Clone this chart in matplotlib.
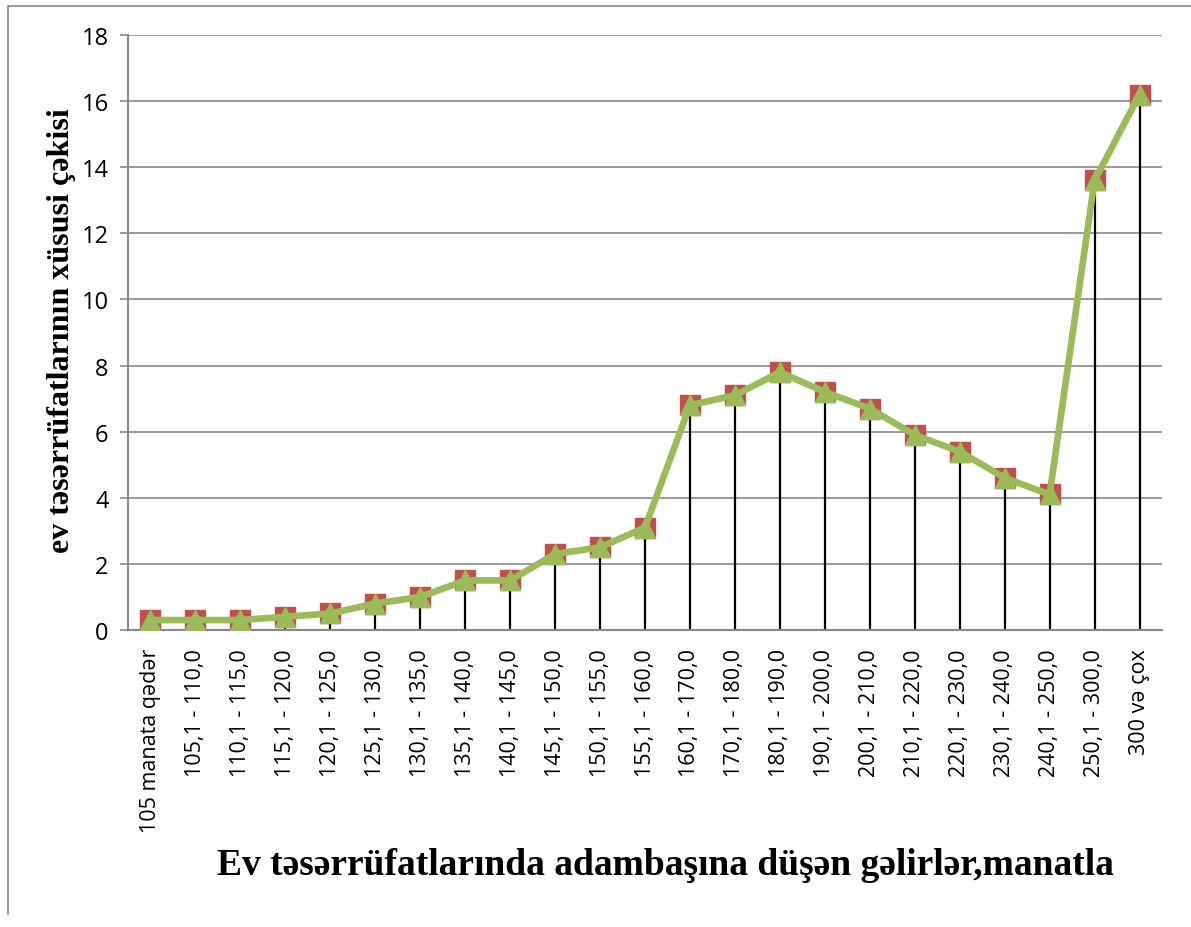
import matplotlib
matplotlib.use("Agg")
import matplotlib.pyplot as plt
from matplotlib.lines import Line2D

categories = ["105 manata qədər", "105,1 - 110,0", "110,1 - 115,0", "115,1 - 120,0",
              "120,1 - 125,0", "125,1 - 130,0", "130,1 - 135,0", "135,1 - 140,0",
              "140,1 - 145,0", "145,1 - 150,0", "150,1 - 155,0", "155,1 - 160,0",
              "160,1 - 170,0", "170,1 - 180,0", "180,1 - 190,0", "190,1 - 200,0",
              "200,1 - 210,0", "210,1 - 220,0", "220,1 - 230,0", "230,1 - 240,0",
              "240,1 - 250,0", "250,1 - 300,0", "300 və çox"]
values = [0.3, 0.3, 0.3, 0.4, 0.5, 0.8, 1.0, 1.5, 1.5, 2.3, 2.5, 3.1,
          6.8, 7.1, 7.8, 7.2, 6.7, 5.9, 5.4, 4.6, 4.1, 13.6, 16.2]
yticks = [0, 2, 4, 6, 8, 10, 12, 14, 16, 18]

W, H = 1191, 928
fig = plt.figure(figsize=(W / 100, H / 100), dpi=100)
ax = fig.add_axes([128 / W, 1 - 631 / H, (1162 - 128) / W, (631 - 36) / H])

x = list(range(len(categories)))
ax.vlines(x, 0, values, colors="black", lw=1.6, zorder=2)
ax.plot(x, values, ls="none", marker="s", ms=15, color="#C0504D", zorder=3)
ax.plot(x, values, lw=4.8, marker="^", ms=15, color="#9BBB59", zorder=4)

ax.set_xlim(-0.5, len(categories) - 0.5)
ax.set_ylim(0, 18)
ax.set_yticks(yticks)
ax.set_xticks(x)
ax.set_xticklabels(categories, rotation=90, fontfamily="Open Sans", fontsize=15.5)
ax.set_yticklabels([str(v) for v in yticks], fontfamily="Open Sans", fontsize=17)
ax.tick_params(axis="x", length=0, pad=13)
ax.tick_params(axis="y", length=6, width=1.2, color="#888888", pad=8)
ax.grid(axis="y", color="#888888", lw=1.2)
ax.set_axisbelow(True)
for s in ["top", "right"]:
    ax.spines[s].set_visible(False)
for s in ["left", "bottom"]:
    ax.spines[s].set_color("#888888")
    ax.spines[s].set_linewidth(1.5)

fig.text(665 / W, 1 - 866 / H, "Ev təsərrüfatlarında adambaşına düşən gəlirlər,manatla",
         ha="center", va="center", fontfamily="Liberation Serif", fontweight="bold", fontsize=27)
fig.text(62 / W, 1 - 331 / H, "ev təsərrüfatlarının xüsusi çəkisi", rotation=90,
         ha="center", va="center", fontfamily="Liberation Serif", fontweight="bold", fontsize=23)

fig.lines.append(Line2D([8 / W, 8 / W, 1.0], [1 - 915 / H, 1 - 7 / H, 1 - 7 / H],
                        transform=fig.transFigure, color="#888888", lw=1.2))

fig.savefig("out.png", dpi=100)
